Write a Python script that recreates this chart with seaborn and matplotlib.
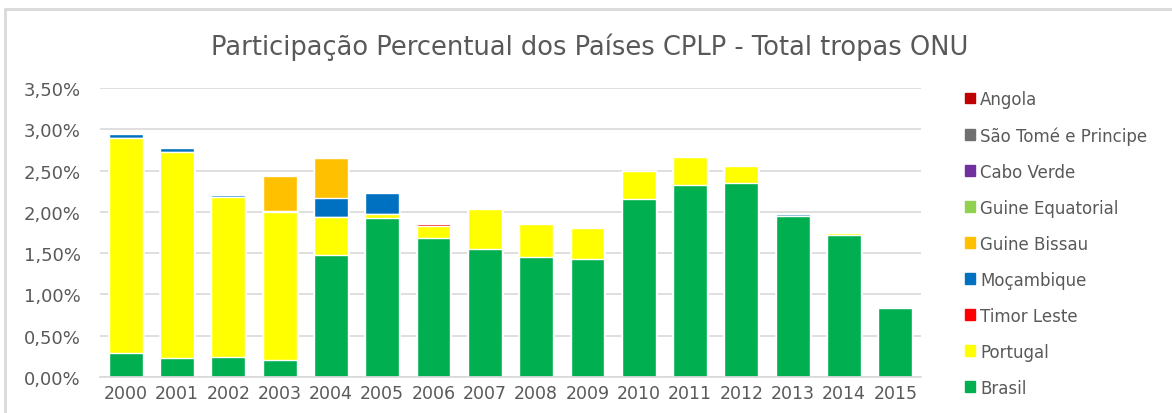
import numpy as np
import pandas as pd
import matplotlib
matplotlib.use('Agg')
import matplotlib.pyplot as plt
from matplotlib.patches import Patch
from matplotlib.lines import Line2D
from matplotlib.ticker import FuncFormatter
import seaborn as sns

# dados (% das tropas da ONU)
anos = [str(a) for a in range(2000, 2016)]
brasil = [0.29, 0.23, 0.24, 0.21, 1.48, 1.92, 1.68, 1.55, 1.45, 1.43, 2.15, 2.33, 2.35, 1.95, 1.72, 0.84]
portugal = [2.60, 2.49, 1.94, 1.79, 0.46, 0.05, 0.15, 0.48, 0.40, 0.37, 0.34, 0.34, 0.21, 0.00, 0.02, 0.00]
timor_leste = [0.00, 0.00, 0.00, 0.00, 0.00, 0.00, 0.02, 0.00, 0.00, 0.00, 0.00, 0.00, 0.01, 0.00, 0.00, 0.00]
mocambique = [0.05, 0.05, 0.02, 0.01, 0.23, 0.26, 0.01, 0.00, 0.01, 0.01, 0.00, 0.00, 0.01, 0.02, 0.00, 0.00]
guine_bissau = [0.00, 0.00, 0.00, 0.42, 0.48, 0.00, 0.00, 0.00, 0.00, 0.00, 0.01, 0.01, 0.00, 0.00, 0.01, 0.01]
guine_equatorial = [0.00, 0.00, 0.00, 0.00, 0.00, 0.00, 0.00, 0.01, 0.00, 0.00, 0.00, 0.01, 0.00, 0.00, 0.00, 0.00]
cabo_verde = [0.0] * 16
sao_tome = [0.0] * 16
angola = [0.0] * 16

series = [
    ('Brasil', brasil, '#00B050'),
    ('Portugal', portugal, '#FFFF00'),
    ('Timor Leste', timor_leste, '#FF0000'),
    ('Moçambique', mocambique, '#0070C0'),
    ('Guine Bissau', guine_bissau, '#FFC000'),
    ('Guine Equatorial', guine_equatorial, '#92D050'),
    ('Cabo Verde', cabo_verde, '#7030A0'),
    ('São Tomé e Principe', sao_tome, '#707070'),
    ('Angola', angola, '#C00000'),
]

sns.set_theme(style='white')
plt.rcParams['font.family'] = ['DejaVu Sans']
cinza = '#595959'

fig = plt.figure(figsize=(11.72, 4.14), dpi=100)
ax = fig.add_axes([100 / 1172, 36 / 414, 821 / 1172, 289 / 414])

# barras empilhadas: desenha os acumulados do maior para o menor
acum = np.cumsum([np.array(s[1]) for s in series], axis=0)
for i in range(len(series) - 1, -1, -1):
    df = pd.DataFrame({'ano': anos, 'valor': acum[i]})
    sns.barplot(data=df, x='ano', y='valor', color=series[i][2], width=0.66,
                saturation=1, ax=ax, zorder=2)

ax.set_ylim(0, 3.5)
ax.set_yticks(np.arange(0, 3.51, 0.5))
ax.yaxis.set_major_formatter(FuncFormatter(lambda v, p: f'{v:.2f}%'.replace('.', ',')))
ax.grid(axis='y', color='#D9D9D9', linewidth=1.2, zorder=0)
ax.set_axisbelow(True)
ax.set_xlabel('')
ax.set_ylabel('')
for s in ['top', 'right', 'left']:
    ax.spines[s].set_visible(False)
ax.spines['bottom'].set_color('#D9D9D9')
ax.tick_params(axis='both', length=0, labelsize=12.5, labelcolor=cinza)
ax.tick_params(axis='y', labelsize=13, pad=14)
ax.tick_params(axis='x', pad=5)

fig.text(0.503, 1 - 47 / 414, 'Participação Percentual dos Países CPLP - Total tropas ONU',
         ha='center', va='center', fontsize=18.5, color=cinza)

handles = [Patch(facecolor=c, edgecolor=c, label=n) for n, _, c in series][::-1]
fig.legend(handles=handles, loc='upper left', bbox_to_anchor=(950 / 1172, 1 - 76 / 414),
           frameon=False, fontsize=12, labelcolor=cinza, handlelength=0.6,
           handleheight=0.6, handletextpad=0.3, labelspacing=1.08)

# borda do gráfico
fig.add_artist(Line2D([5 / 1172, 5 / 1172], [0, 1 - 10 / 414], transform=fig.transFigure,
                      color='#D9D9D9', linewidth=2))
fig.add_artist(Line2D([5 / 1172, 1], [1 - 10 / 414, 1 - 10 / 414], transform=fig.transFigure,
                      color='#D9D9D9', linewidth=2))

fig.savefig('out.png', dpi=100)
